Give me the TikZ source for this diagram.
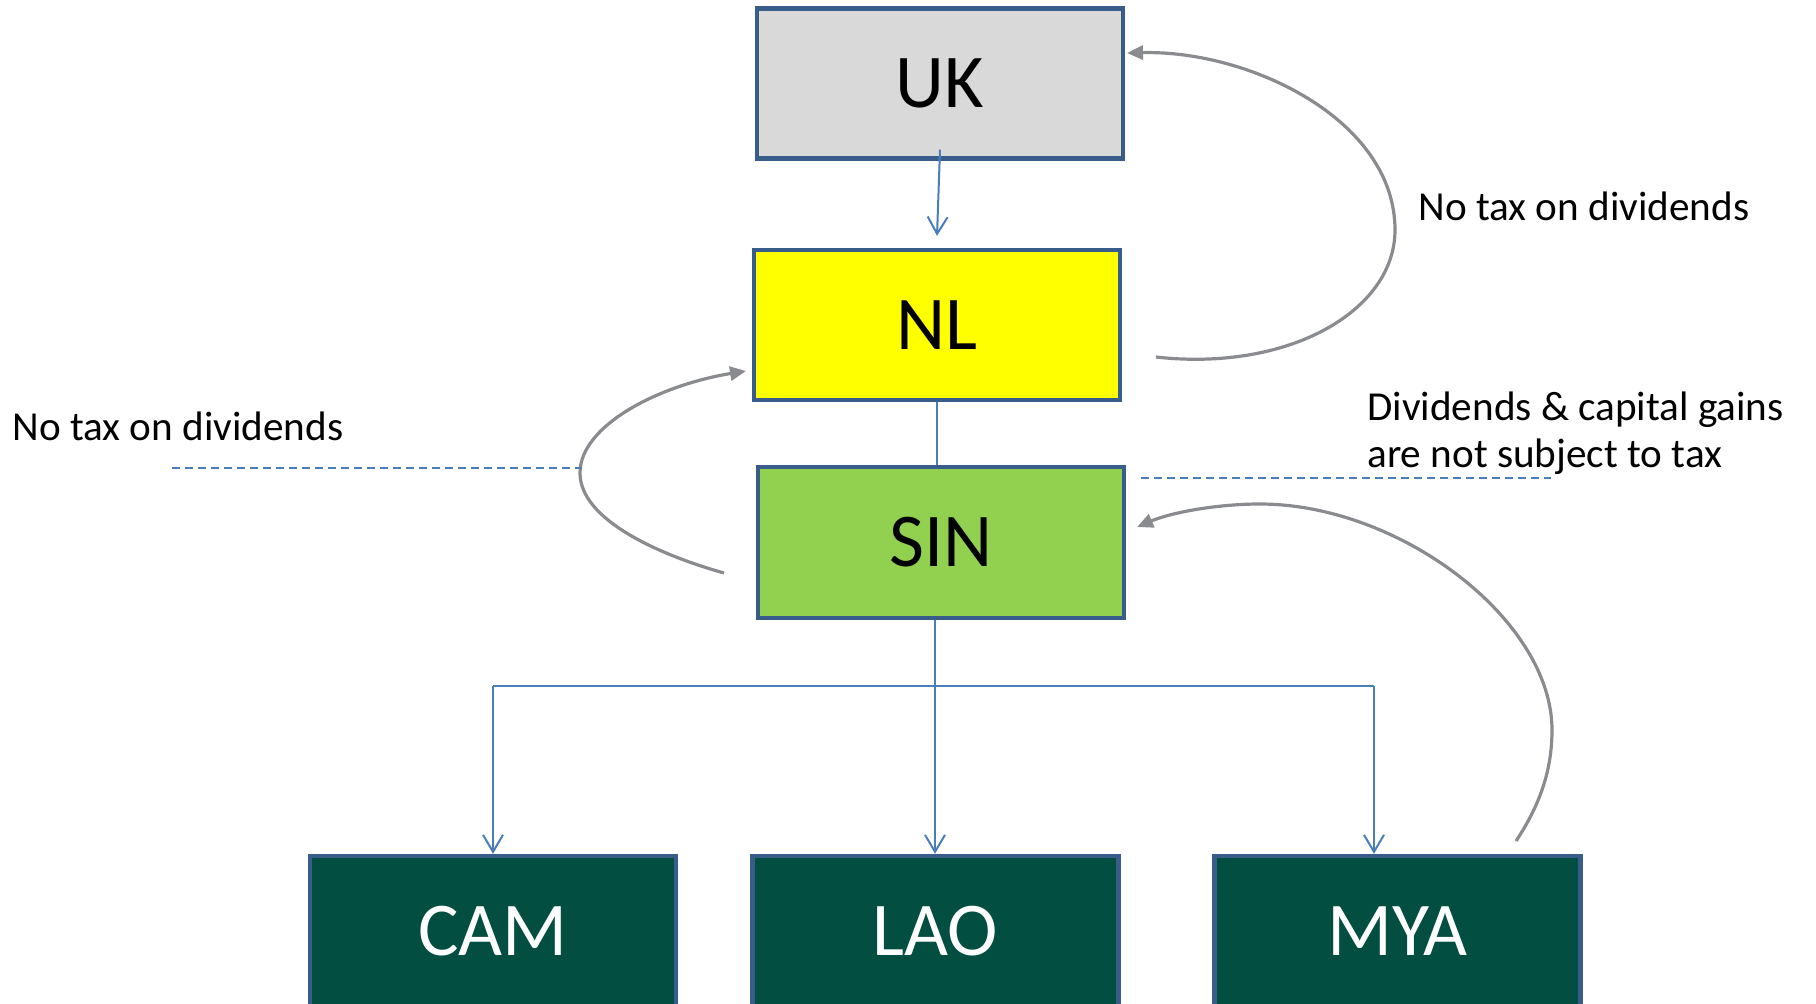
\documentclass[tikz,border=0pt]{standalone}
\usepackage{fontspec}
\setmainfont{Carlito}
\usetikzlibrary{arrows.meta,calc}
\definecolor{bordc}{HTML}{385D8A}
\definecolor{linec}{HTML}{4A7EBB}
\definecolor{grayc}{HTML}{898B8E}
\definecolor{ukfill}{HTML}{D9D9D9}
\definecolor{nlfill}{HTML}{FFFF00}
\definecolor{sinfill}{HTML}{92D050}
\definecolor{subfill}{HTML}{024E40}
\begin{document}
\begin{tikzpicture}[x=0.5pt,y=-0.5pt,
  box/.style={draw=bordc, line width=2.2pt, minimum width=183pt, minimum height=75pt, inner sep=0pt, font=\fontsize{38}{44}\selectfont},
  subbox/.style={box, fill=subfill, text=white},
  conn/.style={draw=linec, line width=1pt},
  blarrow/.style={conn, -{Straight Barb[length=8.5pt,width=10pt]}},
  garrow/.style={draw=grayc, line width=1.6pt, -{Triangle[length=8pt,width=7pt]}},
  dashline/.style={draw=linec, line width=1pt, dash pattern=on 4pt off 2.5pt},
  lbl/.style={font=\fontsize{20.6}{23.5}\selectfont, inner sep=0pt, anchor=base west, align=left}]
\useasboundingbox (0,0) rectangle (1816,1003);
\clip (0,0) rectangle (1816,1003);

% boxes
\node[box, fill=ukfill] (UK) at (940,83.5) {UK};
\node[box, fill=nlfill] (NL) at (937,325) {NL};
\node[box, fill=sinfill, minimum height=75.5pt] (SIN) at (941,542.5) {SIN};
\node[subbox] (CAM) at (493,931) {CAM};
\node[subbox] (LAO) at (935.5,931) {LAO};
\node[subbox] (MYA) at (1397.5,931) {MYA};

% tree connectors
\draw[blarrow] ($(UK.south)+(0,-11)$) -- ($(NL.north)+(0,-12)$);
\draw[conn] (NL.south) -- (NL.south |- SIN.north);
\coordinate (busL) at (493,686);
\coordinate (busM) at (935,686);
\coordinate (busR) at (1374,686);
\draw[conn] (SIN.south -| busM) -- (busM);
\draw[conn] (busL) -- (busR);
\draw[blarrow] (busL) -- (busL |- CAM.north);
\draw[blarrow] (busM) -- (busM |- LAO.north);
\draw[blarrow] (busR) -- (busR |- MYA.north);

% gray curved arrows
\coordinate (g1s) at (1156,357);
\coordinate (g1m) at (1395,230);
\coordinate (g1e) at (1127,53);
\draw[garrow] (g1s) .. controls (1290,372) and (1395,310) .. (g1m)
  .. controls (1395,120) and (1250,50) .. (g1e);

\coordinate (g2s) at (724,573);
\coordinate (g2m) at (580,473);
\coordinate (g2e) at (746,371);
\draw[garrow] (g2s) .. controls (660,555) and (580,520) .. (g2m)
  .. controls (580,425) and (660,385) .. (g2e);

\coordinate (g3s) at (1516,841);
\coordinate (g3a) at (1552,730);
\coordinate (g3b) at (1260,504);
\coordinate (g3e) at (1137,527);
\draw[garrow] (g3s) .. controls (1540,805) and (1552,770) .. (g3a)
  .. controls (1552,620) and (1400,504) .. (g3b)
  .. controls (1215,504) and (1170,513) .. (g3e);

% dashed lines
\coordinate (d1a) at (172,468);
\coordinate (d1b) at (582,468);
\draw[dashline] (d1a) -- (d1b);
\coordinate (d2a) at (1141,478);
\coordinate (d2b) at (1551,478);
\draw[dashline] (d2a) -- (d2b);

% labels
\node[lbl] (t1) at (1418,220) {No tax on dividends};
\node[lbl] (t2) at (12,440) {No tax on dividends};
\node[lbl] (t3) at (1367,467) {Dividends \& capital gains\\are not subject to tax};
\end{tikzpicture}
\end{document}
